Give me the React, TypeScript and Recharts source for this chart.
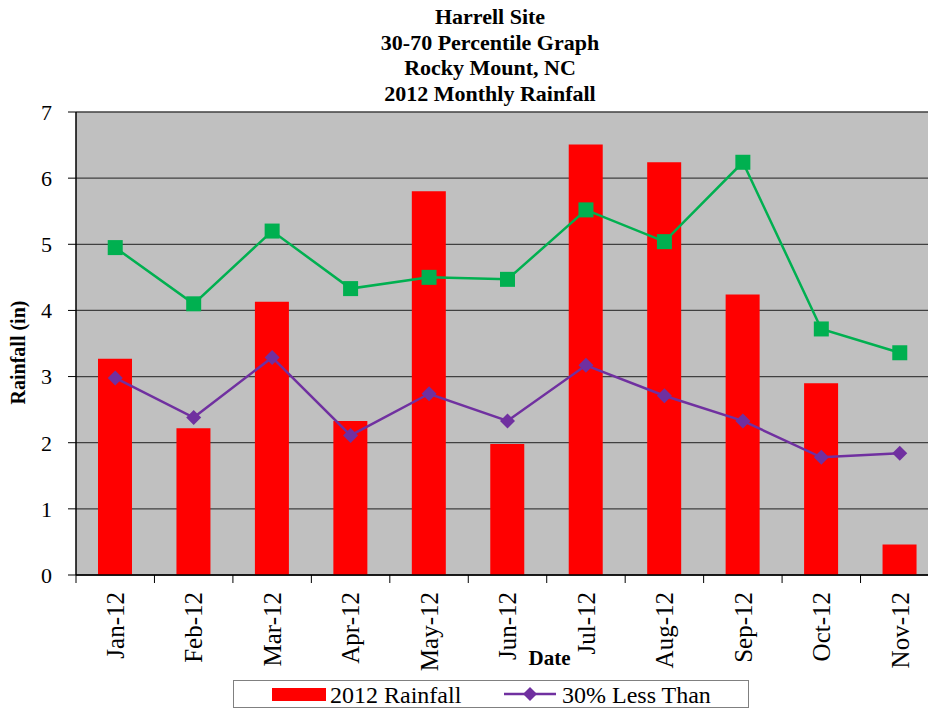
import React from 'react';
import { ComposedChart, Bar, Line, XAxis, YAxis, CartesianGrid } from 'recharts';

// Monthly values
const months = ['Jan-12', 'Feb-12', 'Mar-12', 'Apr-12', 'May-12', 'Jun-12', 'Jul-12', 'Aug-12', 'Sep-12', 'Oct-12', 'Nov-12'];
const rainfall2012 = [3.27, 2.22, 4.13, 2.33, 5.8, 1.98, 6.51, 6.24, 4.24, 2.9, 0.46];
const lessThan30 = [2.98, 2.38, 3.29, 2.11, 2.74, 2.33, 3.17, 2.71, 2.33, 1.78, 1.84];
const greaterThan70 = [4.95, 4.1, 5.2, 4.33, 4.5, 4.47, 5.52, 5.04, 6.24, 3.72, 3.36];
const yTicks = [0, 1, 2, 3, 4, 5, 6, 7];
const titleLines = ['Harrell Site', '30-70 Percentile Graph', 'Rocky Mount, NC', '2012 Monthly Rainfall'];

const data = months.map((m, i) => ({
  month: m,
  rain: rainfall2012[i],
  low: lessThan30[i],
  high: greaterThan70[i],
}));

const FONT = '"Liberation Serif", "Times New Roman", serif';
const CHART_W = 960;
const CHART_H = 709;
const MARGIN = { top: 112, right: 21, bottom: 0, left: 8 };
const Y_WIDTH = 68;
const X_HEIGHT = 134;
const BAND = (CHART_W - MARGIN.left - MARGIN.right - Y_WIDTH) / months.length;

const MonthTick = (props: any) => {
  const { x, payload, index } = props;
  const axisY = CHART_H - X_HEIGHT;
  return (
    <g>
      <line x1={x - BAND / 2} x2={x - BAND / 2} y1={axisY} y2={axisY + 8} stroke="#000" />
      {index === months.length - 1 && (
        <line x1={x + BAND / 2} x2={x + BAND / 2} y1={axisY} y2={axisY + 8} stroke="#000" />
      )}
      <g transform={`translate(${x},${axisY})`}>
        <text transform="rotate(-90)" x={-17} y={0} dy="0.35em" textAnchor="end" fill="#000" style={{ fontSize: 25, fontFamily: FONT }}>
          {payload.value}
        </text>
      </g>
    </g>
  );
};

const SquareDot = (props: any) => {
  const { cx, cy } = props;
  if (cx == null || cy == null) return null;
  return <rect x={cx - 7.5} y={cy - 7.5} width={15} height={15} fill="#00B050" />;
};

const DiamondDot = (props: any) => {
  const { cx, cy } = props;
  if (cx == null || cy == null) return null;
  const r = 7.5;
  return <path d={`M${cx},${cy - r}L${cx + r},${cy}L${cx},${cy + r}L${cx - r},${cy}Z`} fill="#7030A0" />;
};

export default function App() {
  return (
    <div style={{ position: 'absolute', left: 0, top: 0, width: 928, height: 709, overflow: 'hidden', background: '#fff' }}>
      <div style={{ position: 'absolute', left: 0, top: 4, width: 980, textAlign: 'center', fontFamily: FONT, fontWeight: 'bold', fontSize: 22, lineHeight: '25.5px' }}>
        {titleLines.map((t) => (
          <div key={t}>{t}</div>
        ))}
      </div>
      <ComposedChart width={CHART_W} height={CHART_H} data={data} margin={MARGIN}>
        <CartesianGrid vertical={false} stroke="#404040" strokeWidth={1.3} fill="#C0C0C0" fillOpacity={1} />
        <XAxis
          dataKey="month"
          height={X_HEIGHT}
          axisLine={{ stroke: '#000', strokeWidth: 1.5 }}
          tickLine={false}
          tick={<MonthTick />}
          interval={0}
          label={(p: any) => {
            const vb = p.viewBox;
            return (
              <text x={vb.x + vb.width / 2 + 42} y={665} textAnchor="middle" fill="#000" style={{ fontSize: 21, fontWeight: 'bold', fontFamily: FONT }}>
                Date
              </text>
            );
          }}
        />
        <YAxis
          width={Y_WIDTH}
          domain={[0, 7]}
          ticks={yTicks}
          interval={0}
          axisLine={{ stroke: '#000', strokeWidth: 1.5 }}
          tickLine={{ stroke: '#000' }}
          tickSize={8}
          tickMargin={16}
          tick={{ fontSize: 22, fontFamily: FONT, fill: '#000' }}
          label={(p: any) => {
            const vb = p.viewBox;
            const cy = vb.y + vb.height / 2 + 9;
            return (
              <text x={18} y={cy} transform={`rotate(-90, 18, ${cy})`} dy="0.35em" textAnchor="middle" fill="#000" style={{ fontSize: 20, fontWeight: 'bold', fontFamily: FONT }}>
                Rainfall (in)
              </text>
            );
          }}
        />
        <Bar dataKey="rain" name="2012 Rainfall" fill="#FF0000" barSize={34} isAnimationActive={false} />
        <Line dataKey="high" name="70% Greater Than" stroke="#00B050" strokeWidth={2.5} dot={<SquareDot />} activeDot={false} isAnimationActive={false} />
        <Line dataKey="low" name="30% Less Than" stroke="#7030A0" strokeWidth={2.5} dot={<DiamondDot />} activeDot={false} isAnimationActive={false} />
      </ComposedChart>
      <svg style={{ position: 'absolute', left: 233, top: 680 }} width={516} height={28}>
        <rect x={0.5} y={0.5} width={515} height={27} fill="#fff" stroke="#808080" />
        <rect x={39} y={8} width={54} height={13} fill="#FF0000" />
        <text x={97} y={15} dy="0.35em" fill="#000" style={{ fontSize: 24, fontFamily: FONT }}>2012 Rainfall</text>
        <line x1={271} x2={323} y1={14} y2={14} stroke="#7030A0" strokeWidth={2.5} />
        <path d="M297,7L304,14L297,21L290,14Z" fill="#7030A0" />
        <text x={329} y={15} dy="0.35em" fill="#000" style={{ fontSize: 24, fontFamily: FONT }}>30% Less Than</text>
      </svg>
    </div>
  );
}
